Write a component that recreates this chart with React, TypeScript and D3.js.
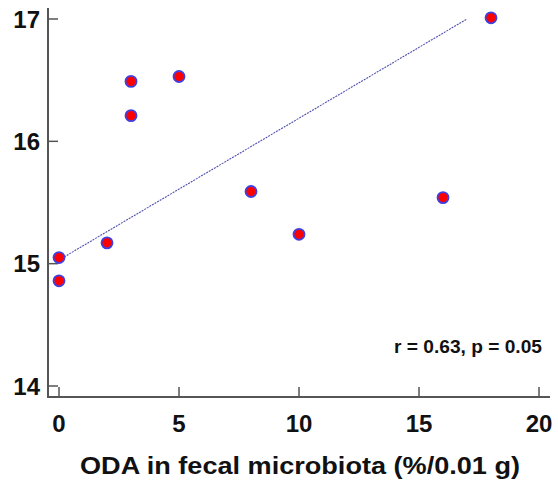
import React from 'react';
import * as d3 from 'd3';

// values
const odaX = [0, 0, 2, 3, 3, 5, 8, 10, 16, 18];
const valueY = [15.05, 14.86, 15.17, 16.49, 16.21, 16.53, 15.59, 15.24, 15.54, 17.01];
const xTicks = [0, 5, 10, 15, 20];
const yTicks = [14, 15, 16, 17];
const fitX = [0, 17];
const fitY = [15.03, 17.0];
const xTitle = 'ODA in fecal microbiota (%/0.01 g)';
const statText = 'r = 0.63, p = 0.05';

const W = 558;
const H = 486;
const font = '"Liberation Sans", Arial, sans-serif';

export default function App() {
  const x = d3.scaleLinear().domain([0, 20]).range([59, 539]);
  const y = d3.scaleLinear().domain([14, 17]).range([386, 19]);

  const axisLeft = 48;
  const axisBottom = 397;
  const axisColor = '#555';

  const fitLine = d3.line<number>()
    .x((d) => x(fitX[d]))
    .y((d) => y(fitY[d]));

  return (
    <svg width={W} height={H} style={{ position: 'absolute', left: 0, top: 0, background: '#fff' }}
      fontFamily={font}>
      {/* axes */}
      <line x1={axisLeft} x2={axisLeft} y1={8} y2={axisBottom + 1} stroke={axisColor} strokeWidth={2} />
      <line x1={axisLeft - 1} x2={550} y1={axisBottom} y2={axisBottom} stroke={axisColor} strokeWidth={2} />

      {yTicks.map((t) => (
        <g key={'y' + t}>
          <line x1={axisLeft} x2={axisLeft + 10} y1={y(t)} y2={y(t)} stroke={axisColor} strokeWidth={1.5} />
          <text x={40} y={y(t)} dy="0.36em" textAnchor="end" fontSize={24} fontWeight="bold" fill="#111">{t}</text>
        </g>
      ))}

      {xTicks.map((t) => (
        <g key={'x' + t}>
          <line x1={x(t)} x2={x(t)} y1={axisBottom} y2={axisBottom - 10} stroke={axisColor} strokeWidth={1.5} />
          <text x={x(t)} y={432} textAnchor="middle" fontSize={24} fontWeight="bold" fill="#111">{t}</text>
        </g>
      ))}

      <text x={80} y={474} fontSize={23} fontWeight="bold" fill="#111"
        textLength={440} lengthAdjust="spacingAndGlyphs">{xTitle}</text>

      {/* fit line */}
      <path d={fitLine([0, 1]) ?? ''} fill="none" stroke="#5050b0" strokeWidth={1.1} strokeDasharray="2,1" />

      {/* points */}
      {odaX.map((v, i) => (
        <circle key={i} cx={x(v)} cy={y(valueY[i])} r={5.5} fill="#ff0000" stroke="#4040e0" strokeWidth={1.8} />
      ))}

      <text x={394} y={353} fontSize={18} fontWeight="bold" fill="#111"
        textLength={148} lengthAdjust="spacingAndGlyphs">{statText}</text>
    </svg>
  );
}
